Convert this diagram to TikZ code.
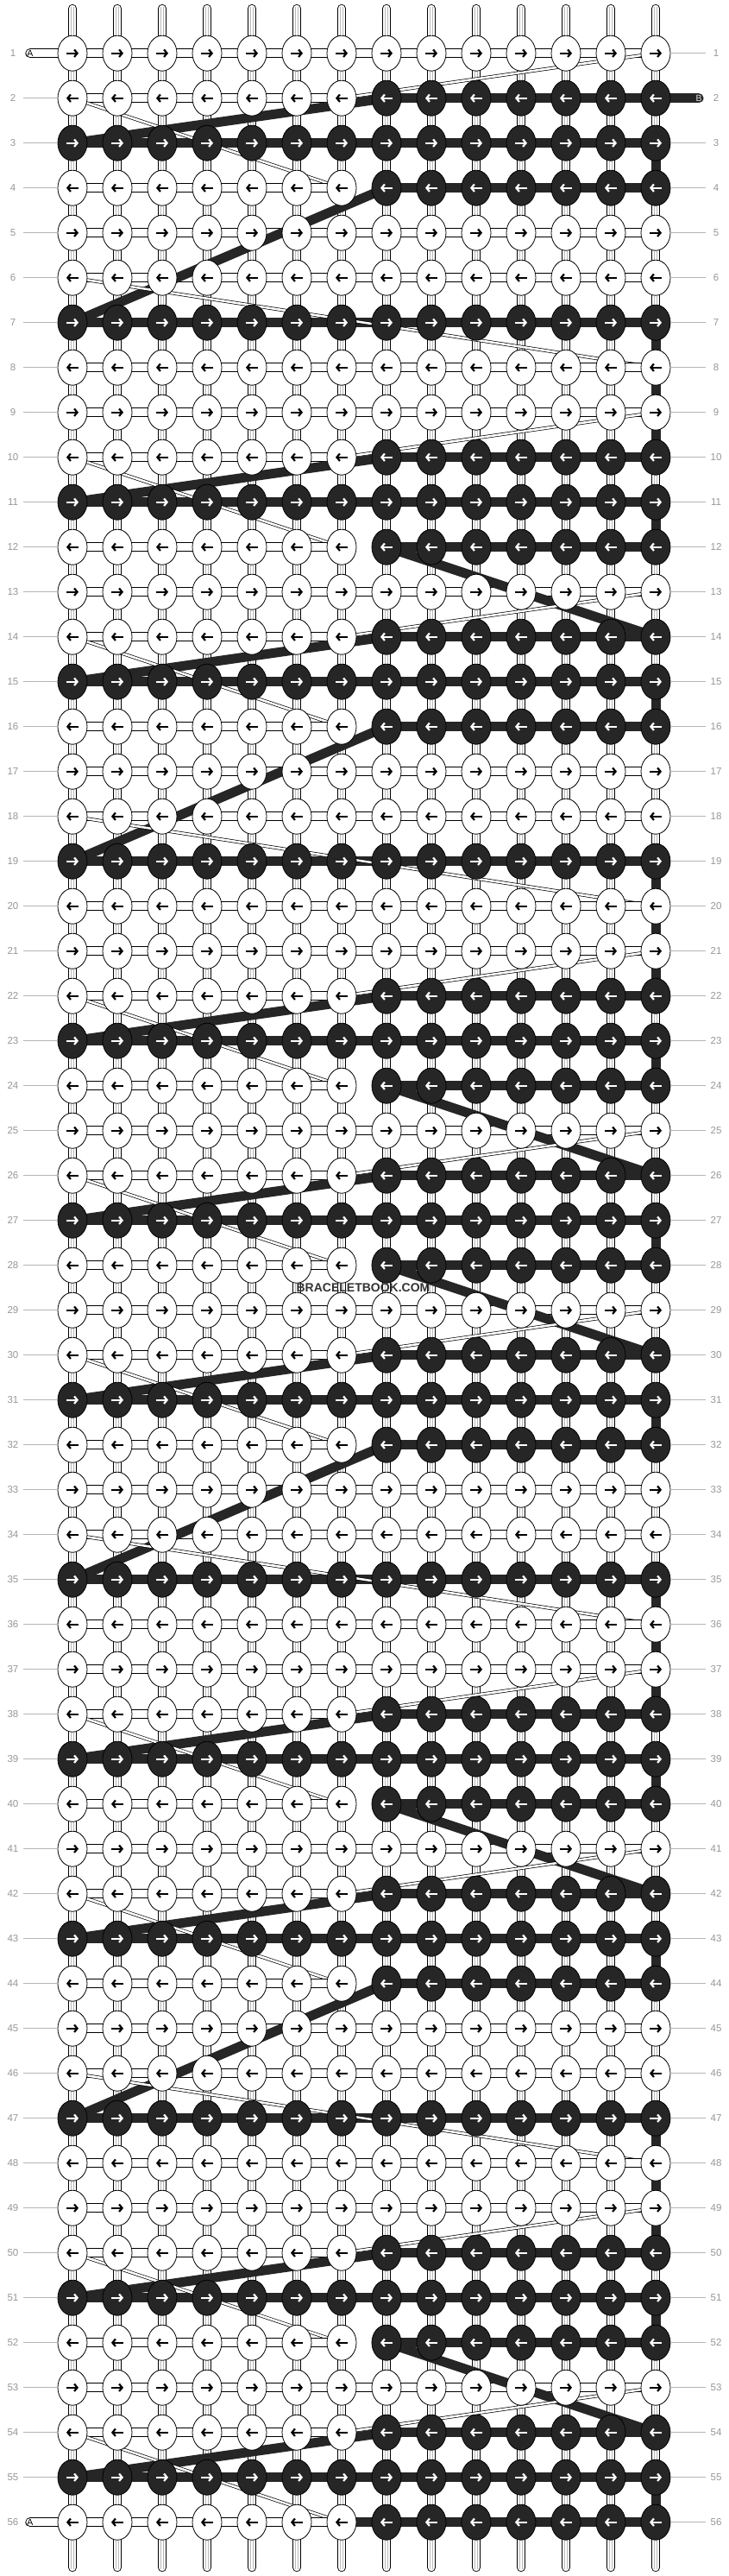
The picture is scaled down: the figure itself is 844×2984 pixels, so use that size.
\documentclass[tikz,border=0pt]{standalone}
\usepackage{fontspec}
\setmainfont{Liberation Sans}
\usetikzlibrary{shapes.geometric,arrows.meta}

\definecolor{knotblack}{RGB}{38,38,38}
\definecolor{numgray}{RGB}{150,150,150}
\definecolor{warpgray}{RGB}{185,185,185}

\def\rowkinds{W,H,B,H,W,W,B,W,W,H,B,H,W,H,B,H,W,W,B,W,W,H,B,H,W,H,B,H,
              W,H,B,H,W,W,B,W,W,H,B,H,W,H,B,H,W,W,B,W,W,H,B,H,W,H,B,H}

\tikzset{
  knotpos/.style={ellipse, minimum width=34pt, minimum height=41pt, inner sep=0pt},
  knot/.style={knotpos, draw=black, line width=0.8pt},
  knotw/.style={knot, fill=white},
  knotb/.style={knot, fill=knotblack},
  arroww/.style={draw=black, line width=2.2pt, -{Straight Barb[length=3.5pt,width=8.5pt]}},
  arrowb/.style={arroww, draw=white},
  wbar/.style={draw=black, double=white, line width=0.9pt, double distance=9.5pt},
  wdiag/.style={draw=black, double=white, line width=0.7pt, double distance=2.5pt},
  bbar/.style={draw=knotblack, line width=11pt},
  warp/.style={draw=black, double=white, line width=0.9pt, double distance=8.5pt, line cap=round},
  warpin/.style={draw=warpgray, double=white, line width=0.7pt, double distance=2.6pt},
  numlabel/.style={font=\fontsize{11.5}{12}\selectfont, text=numgray, minimum width=24pt, inner sep=0pt},
  numline/.style={draw=numgray!70, line width=0.8pt},
  taillabel/.style={font=\fontsize{10.5}{11}\selectfont, inner sep=0pt},
  watermark/.style={font=\fontsize{14}{14}\selectfont\bfseries, text=black!80, inner sep=0pt}
}

% colour of knot (row, col): w or b
\newcommand{\knotcolour}[2]{%
  \def\kc{w}%
  \if B\kind \def\kc{b}\fi
  \if H\kind \ifnum#2>7\relax \def\kc{b}\fi\fi}

\begin{document}
\begin{tikzpicture}[x=1pt,y=-1pt]
\useasboundingbox (0,0) rectangle (844,2984);

% warp strands
\foreach \col in {1,...,14}{
  \coordinate (wt-\col) at ({84+52*(\col-1)},10);
  \coordinate (wb-\col) at ({84+52*(\col-1)},2974);
  \draw[warp] (wt-\col) -- (wb-\col);
  \draw[warpin] ([yshift=2pt]wt-\col) -- ([yshift=-2pt]wb-\col);
}

% knot places and the two knotting strands, in knotting order
\gdef\lastA{}\gdef\lastB{}
\foreach \kind [count=\row] in \rowkinds {
  \foreach \pos in {1,...,14}{
    \pgfmathtruncatemacro\col{isodd(\row) ? \pos : 15-\pos}
    \knotcolour{\row}{\col}
    \node[knotpos] (k-\row-\col) at ({84+52*(\col-1)},{61.7+52*(\row-1)}) {};
    \if b\kc
      \ifx\lastB\empty\else \draw[bbar] (k-\lastB.center) -- (k-\row-\col.center);\fi
      \xdef\lastB{\row-\col}
    \else
      \ifx\lastA\empty\else
        \ifnum\lastAr=\row\relax
          \draw[wbar] (k-\lastA.center) -- (k-\row-\col.center);
        \else
          \ifnum\lastAc=\col\relax\else
            \draw[wdiag] (k-\lastA.center) -- (k-\row-\col.center);
          \fi
        \fi
      \fi
      \xdef\lastA{\row-\col}\xdef\lastAr{\row}\xdef\lastAc{\col}
    \fi
  }
}

% loose ends
\node[taillabel] (ta-1) at (35,61.7) {};
\node[taillabel] (ta-56) at (35,2921.7) {};
\node[taillabel] (tb-2) at (810,113.7) {};
\draw[wbar, line cap=round] (ta-1.center) -- (k-1-1.center);
\draw[wbar, line cap=round] (k-56-1.center) -- (ta-56.center);
\draw[bbar, line cap=round] (k-2-14.center) -- (tb-2.center);
\draw[bbar] (k-56-8.center) -- (k-56-7.center);
\node[taillabel] (la-1) at (ta-1) {A};
\node[taillabel] (la-56) at (ta-56) {A};
\node[taillabel, text=black!12] (lb-2) at (tb-2) {B};

% knots with their arrows
\foreach \kind [count=\row] in \rowkinds {
  \ifodd\row\relax \def\dir{1}\else \def\dir{-1}\fi
  \foreach \col in {1,...,14}{
    \knotcolour{\row}{\col}
    \node[knot\kc] (kf-\row-\col) at (k-\row-\col) {};
    \draw[arrow\kc] ([xshift={-7*\dir}]kf-\row-\col.center) -- ([xshift={7*\dir}]kf-\row-\col.center);
  }
}

% row numbers
\foreach \row in {1,...,56}{
  \node[numlabel] (ln-\row) at (15,{61.7+52*(\row-1)}) {\row};
  \node[numlabel] (rn-\row) at (830,{61.7+52*(\row-1)}) {\row};
}
\foreach \row in {2,...,55}
  \draw[numline] (ln-\row) -- (kf-\row-1);
\foreach \row in {1,3,4,...,56}
  \draw[numline] (kf-\row-14) -- (rn-\row);

\node[watermark] (wm) at (421,1492) {BRACELETBOOK.COM};

\end{tikzpicture}
\end{document}
